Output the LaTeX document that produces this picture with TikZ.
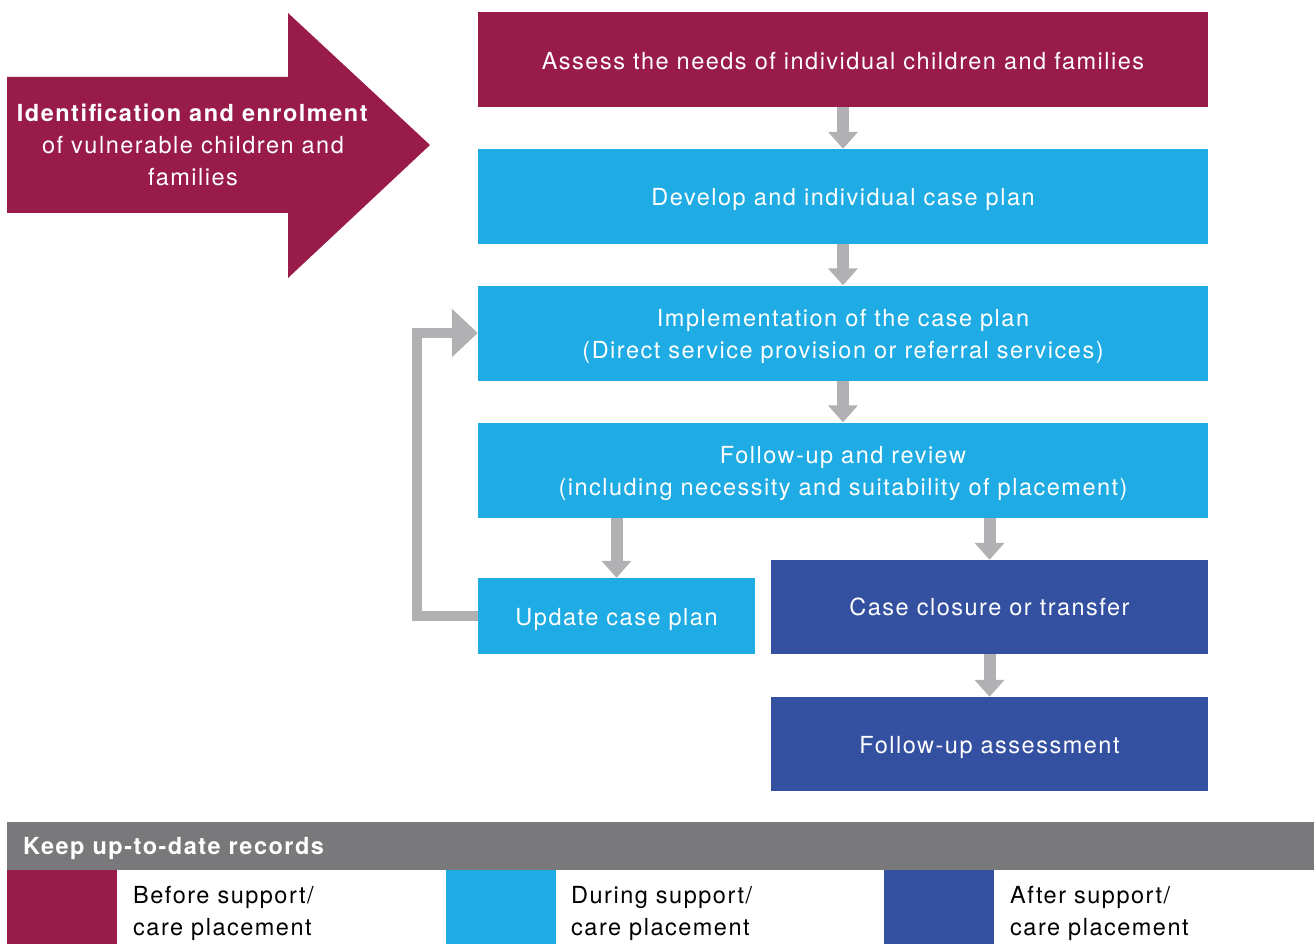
\documentclass[tikz,border=0pt]{standalone}
\usepackage{fontspec}
\setmainfont{TeX Gyre Heros}[LetterSpace=6.4]
\usetikzlibrary{arrows.meta}
\definecolor{maroon}{HTML}{981B4A}
\definecolor{sky}{HTML}{1FABE3}
\definecolor{navy}{HTML}{3450A1}
\definecolor{flowgray}{HTML}{B1B0B3}
\definecolor{bargray}{HTML}{79797B}
% a tall strut that sets a line of text a little lower in its box
\newcommand{\lowerstrut}{\rule{0pt}{24pt}}
\tikzset{
  txt/.style={font=\fontsize{23.5}{32}\selectfont},
  box/.style={rectangle, inner sep=0pt, text=white, align=center, txt},
  stagetxt/.style={execute at begin node={\lowerstrut}},
  stagebox/.style={box, minimum width=730pt, minimum height=95pt},
  flow/.style={draw=flowgray, line width=12pt,
    -{Triangle[width=29pt,length=17pt]}},
  loopflow/.style={draw=flowgray, line width=10.5pt, miter limit=10,
    -{Triangle[width=47pt,length=26pt]}},
  swatch/.style={rectangle, inner sep=0pt, minimum width=110pt, minimum height=74pt},
  legendtxt/.style={anchor=west, align=left, inner sep=0pt, txt},
}
\begin{document}
\begin{tikzpicture}[x=1pt,y=-1pt]
\useasboundingbox (0,0) rectangle (1314,944);

% entry arrow
\fill[maroon] (7,77) -- (288,77) -- (288,13) -- (430,145) -- (288,278)
  -- (288,213) -- (7,213) -- cycle;
\node[box] (entry) at (193,145)
  {\textbf{Identification and enrolment}\\of vulnerable children and\\families};

% process stages
\node[stagebox, fill=maroon] (assess) at (843,59.5)
  {\rule{0pt}{21pt}Assess the needs of individual children and families};
\node[stagebox, stagetxt, fill=sky] (plan) at (843,196.5)
  {Develop and individual case plan};
\node[stagebox, fill=sky] (impl) at (843,333)
  {\lowerstrut Implementation of the case plan\\(Direct service provision or referral services)};
\node[stagebox, fill=sky] (review) at (843,470)
  {\lowerstrut Follow-up and review\\(including necessity and suitability of placement)};
\node[box, stagetxt, fill=sky, minimum width=277pt, minimum height=76pt] (update) at (616.5,616)
  {Update case plan};
\node[box, fill=navy, minimum width=437pt, minimum height=94pt] (closure) at (989.5,607)
  {Case closure or transfer};
\node[box, stagetxt, fill=navy, minimum width=437pt, minimum height=94pt] (followup) at (989.5,744)
  {Follow-up assessment};

% connectors
\draw[flow] (assess.south) -- (plan.north);
\draw[flow] (plan.south) -- (impl.north);
\draw[flow] (impl.south) -- (review.north);
\draw[flow] (review.south -| update.north) -- (update.north);
\draw[flow] (review.south -| closure.north) -- (closure.north);
\draw[flow] (closure.south) -- (followup.north);
\draw[loopflow] (update.west) -- ++(-61,0) |- (impl.west);

% legend
\node[rectangle, inner sep=0pt, fill=bargray, minimum width=1307pt, minimum height=48pt,
  anchor=north west] (bar) at (7,822) {};
\node[anchor=west, text=white, inner sep=0pt, txt] (bartxt) at (23,848)
  {\textbf{Keep up-to-date records}};
\node[swatch, fill=maroon, anchor=north west] (sw1) at (7,870) {};
\node[swatch, fill=sky, anchor=north west] (sw2) at (446,870) {};
\node[swatch, fill=navy, anchor=north west] (sw3) at (884,870) {};
\node[legendtxt] (lg1) at (133,913) {Before support/\\care placement};
\node[legendtxt] (lg2) at (571,913) {During support/\\care placement};
\node[legendtxt] (lg3) at (1010,913) {After support/\\care placement};
\end{tikzpicture}
\end{document}
